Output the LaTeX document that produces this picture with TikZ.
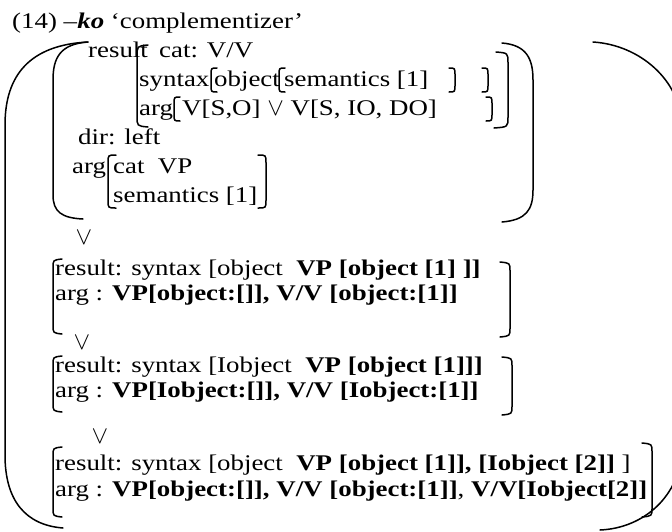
\documentclass[tikz,border=0pt]{standalone}
\usepackage{fontspec}
\setmainfont{Liberation Serif}[FakeStretch=1.2]
\begin{document}
\begin{tikzpicture}[x=1pt,y=-1pt,
  txt/.style={anchor=base west, inner sep=0pt, font=\fontsize{22.4}{26}\selectfont},
  orv/.style={anchor=center, inner sep=0pt, font=\fontsize{27}{30}\selectfont},
  brk/.style={line width=1.5pt, line cap=round}]
\useasboundingbox (0,0) rectangle (672,531);
\clip (0,0) rectangle (672,531);

% title
\node[txt] (title) at (12,28) {(14) –\textbf{\textit{ko}} ‘complementizer’};

% top AVM
\node[txt] (res) at (88,57) {result};
\node[txt] (cat) at (159,57) {cat: V/V};
\node[txt] (syn) at (139,86) {syntax};
\node[txt] (obj) at (214,86) {object};
\node[txt] (sem1) at (284,86) {semantics [1]};
\node[txt] (arg1) at (139,115) {arg};
\node[txt] (vso) at (182,115) {V[S,O] {\fontsize{25}{26}\selectfont$\vee$} V[S, IO, DO]};
\node[txt] (dir) at (78,144) {dir: left};
\node[txt] (arg2) at (72,173) {arg};
\node[txt] (catvp) at (113,173) {cat\ \ VP};
\node[txt] (sem2) at (113,202) {semantics [1]};

% outer brackets
\draw[brk] (88,42) .. controls (30,45) and (5,75) .. (5,125) -- (5,455) .. controls (5,500) and (25,525) .. (63,528);
\draw[brk] (593,42) .. controls (640,45) and (680,80) .. (682,125) -- (682,450) .. controls (680,495) and (645,528) .. (600,530);
% top AVM brackets
\draw[brk] (88,42) .. controls (60,44) and (53,58) .. (53,80) -- (53,195) .. controls (53,212) and (62,218) .. (83,219);
\draw[brk] (502,43) .. controls (526,45) and (533,58) .. (533,80) -- (533,190) .. controls (533,210) and (526,220) .. (502,222);
% result value brackets
\draw[brk] (148,45) .. controls (137,46) .. (137,57) -- (137,116) .. controls (137,126) .. (148,127);
\draw[brk] (496,52) .. controls (508,53) .. (508,63) -- (508,117) .. controls (508,127) .. (494,128);
% syntax line small brackets
\draw[brk] (217,68) .. controls (211,68) .. (211,75) -- (211,85) .. controls (211,92) .. (217,92);
\draw[brk] (285,68) .. controls (279,68) .. (279,75) -- (279,85) .. controls (279,92) .. (285,92);
\draw[brk] (449,68) .. controls (455,68) .. (455,75) -- (455,85) .. controls (455,92) .. (449,92);
\draw[brk] (482,68) .. controls (488,68) .. (488,75) -- (488,85) .. controls (488,92) .. (482,92);
% arg line small brackets
\draw[brk] (180,97) .. controls (174,97) .. (174,104) -- (174,114) .. controls (174,121) .. (180,121);
\draw[brk] (486,97) .. controls (492,97) .. (492,104) -- (492,114) .. controls (492,121) .. (486,121);
% arg(cat VP / semantics) brackets
\draw[brk] (116,155) .. controls (108,155) .. (108,163) -- (108,200) .. controls (108,208) .. (116,208);
\draw[brk] (258,155) .. controls (266,155) .. (266,163) -- (266,200) .. controls (266,208) .. (258,208);

% disjunction marks
\node[orv] (or1) at (84,238) {$\vee$};
\node[orv] (or2) at (82,343) {$\vee$};
\node[orv] (or3) at (100,437) {$\vee$};

% block 1
\node[txt] (b1r) at (55,275) {result: syntax [object\ \ \textbf{VP [object [1] ]]}};
\node[txt] (b1a) at (55,300) {arg : \textbf{VP[object:[]], V/V [object:[1]]}};
\draw[brk] (62,259) .. controls (53,260) .. (53,268) -- (53,325) .. controls (53,333) .. (62,334);
\draw[brk] (500,262) .. controls (510,263) .. (510,271) -- (510,328) .. controls (510,336) .. (500,337);

% block 2
\node[txt] (b2r) at (55,372) {result: syntax [Iobject\ \ \textbf{VP [object [1]]]}};
\node[txt] (b2a) at (55,397) {arg : \textbf{VP[Iobject:[]], V/V [Iobject:[1]]}};
\draw[brk] (62,356) .. controls (53,357) .. (53,365) -- (53,403) .. controls (53,411) .. (62,412);
\draw[brk] (502,357) .. controls (512,358) .. (512,366) -- (512,406) .. controls (512,414) .. (502,415);

% block 3
\node[txt] (b3r) at (55,470) {result: syntax [object\ \ \textbf{VP [object [1]], [Iobject [2]]} ]};
\node[txt] (b3a) at (55,496) {arg : \textbf{VP[object:[]], V/V [object:[1]]}, \textbf{V/V[Iobject[2]]}};
\draw[brk] (62,447) .. controls (53,448) .. (53,456) -- (53,508) .. controls (53,516) .. (62,517);
\draw[brk] (642,443) .. controls (652,444) .. (652,452) -- (652,508) .. controls (652,516) .. (642,517);
\end{tikzpicture}
\end{document}
